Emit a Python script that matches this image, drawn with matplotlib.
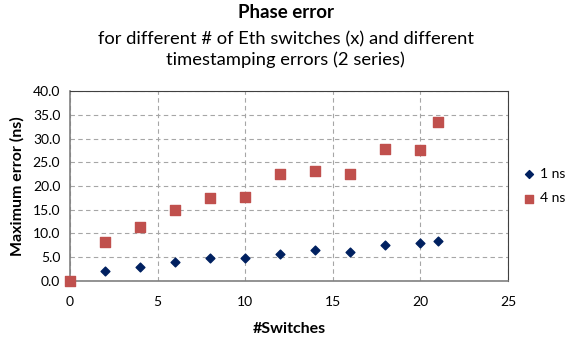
import matplotlib.pyplot as plt

plt.rcParams["font.family"] = ["Lato", "DejaVu Sans"]

# Number of Ethernet switches and max phase error per timestamping error
switches = [0, 2, 4, 6, 8, 10, 12, 14, 16, 18, 20, 21]
err_1ns = [0.0, 2.0, 2.9, 3.9, 4.8, 4.9, 5.7, 6.6, 6.2, 7.5, 8.1, 8.5]
err_4ns = [0.0, 8.2, 11.4, 14.9, 17.5, 17.6, 22.5, 23.2, 22.5, 27.8, 27.6, 33.4]

fig = plt.figure(figsize=(5.71, 3.41), dpi=100)
ax = fig.add_axes([0.1226, 0.176, 0.767, 0.557])

ax.scatter(switches, err_1ns, marker="D", s=20, color="#002060", label="1 ns",
           zorder=3, clip_on=False)
ax.scatter(switches, err_4ns, marker="s", s=42, color="#C0504D", label="4 ns",
           zorder=3, clip_on=False)

ax.set_xlim(0, 25)
ax.set_ylim(0, 40)
ax.set_xticks(range(0, 26, 5))
ax.set_yticks(range(0, 41, 5))
ax.set_yticklabels([f"{v:.1f}" for v in range(0, 41, 5)])
ax.tick_params(length=0, labelsize=10)
ax.tick_params(axis="x", pad=11)
ax.tick_params(axis="y", pad=7)
ax.grid(True, color="#a6a6a6", linestyle=(0, (4, 3)), linewidth=0.8)
ax.set_axisbelow(True)
for side in ["left", "bottom"]:
    ax.spines[side].set_color("#808080")
    ax.spines[side].set_linewidth(1.2)
for side in ["top", "right"]:
    ax.spines[side].set_color("#404040")
    ax.spines[side].set_linewidth(0.8)

ax.set_xlabel("#Switches", fontsize=11.5, fontweight="bold", labelpad=10)
ax.set_ylabel("Maximum error (ns)", fontsize=11.5, fontweight="bold", labelpad=6)

fig.text(0.5, 0.963, "Phase error", ha="center", va="center", fontsize=13.5, fontweight="bold")
fig.text(0.5, 0.855, "for different # of Eth switches (x) and different\ntimestamping errors (2 series)",
         ha="center", va="center", fontsize=13.2, linespacing=1.3)

ax.legend(loc="center left", bbox_to_anchor=(1.0, 0.5), frameon=False, fontsize=10,
          handletextpad=0.0, handlelength=1.6, labelspacing=0.9, markerscale=0.9,
          borderpad=0.2)

fig.savefig("out.png", dpi=100)
